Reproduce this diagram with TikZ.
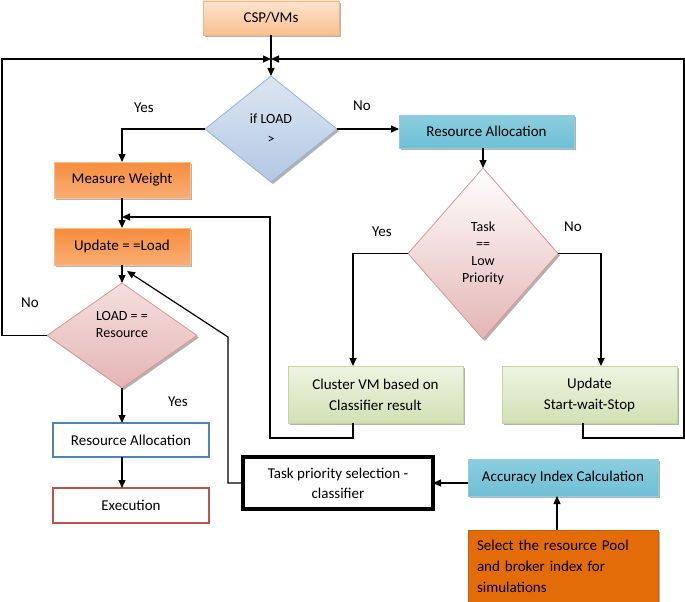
\documentclass[tikz,border=0pt]{standalone}
\usepackage{fontspec}
\setmainfont{Carlito}
\usetikzlibrary{shapes.geometric,arrows.meta,shadows}
\definecolor{cspTop}{HTML}{FDE3CE}
\definecolor{cspBot}{HTML}{FABF8F}
\definecolor{cspLine}{HTML}{F9B383}
\definecolor{orTop}{HTML}{F68C3C}
\definecolor{orBot}{HTML}{F9AE74}
\definecolor{orLine}{HTML}{FAC090}
\definecolor{tlTop}{HTML}{8CCDDF}
\definecolor{tlMid}{HTML}{45A7C2}
\definecolor{tlBot}{HTML}{6FC0D6}
\definecolor{tlLine}{HTML}{93CDDD}
\definecolor{grTop}{HTML}{EEF4E3}
\definecolor{grBot}{HTML}{D2E1B4}
\definecolor{grLine}{HTML}{C3D69B}
\definecolor{pkTop}{HTML}{F4E0DF}
\definecolor{pkBot}{HTML}{E4B5B4}
\definecolor{pkLine}{HTML}{D99694}
\definecolor{blTop}{HTML}{DCE6F2}
\definecolor{blBot}{HTML}{B3C8E3}
\definecolor{blLine}{HTML}{95B3D7}
\definecolor{selFill}{HTML}{E36C09}
\definecolor{raLine}{HTML}{4F81BD}
\definecolor{exLine}{HTML}{C0504D}
\begin{document}
\begin{tikzpicture}[x=1pt,y=-1pt,
  every node/.style={inner sep=0pt,outer sep=0pt},
  boxtext/.style={font=\fontsize{15}{21}\selectfont,align=center},
  dtext/.style={font=\fontsize{14}{17}\selectfont,align=center},
  shade/.style={drop shadow={shadow xshift=2pt,shadow yshift=-2pt,fill=black,opacity=0.3}},
  cspbox/.style={boxtext,shade,top color=cspTop,bottom color=cspBot,draw=cspLine,line width=0.8pt},
  orbox/.style={boxtext,shade,top color=orTop,bottom color=orBot,draw=orLine,line width=0.8pt},
  tlbox/.style={boxtext,shade,top color=tlTop,middle color=tlMid,bottom color=tlBot,draw=tlLine,line width=0.8pt},
  grbox/.style={boxtext,shade,top color=grTop,bottom color=grBot,draw=grLine,line width=0.8pt},
  plainbox/.style={boxtext,fill=white,line width=2.2pt},
  decide/.style={diamond,dtext,shade,line width=0.8pt},
  lbl/.style={font=\fontsize{15}{17}\selectfont},
  conn/.style={line width=1.2pt,draw=black},
  arr/.style={conn,-{Triangle[length=8pt,width=7pt]}}
]
\useasboundingbox (0,0) rectangle (685,602);

% nodes
\node[cspbox,minimum width=136pt,minimum height=34pt] (csp) at (271,18) {CSP/VMs};
\node[decide,top color=blTop,bottom color=blBot,draw=blLine,minimum width=132pt,minimum height=106pt] (d1) at (271,129) {if LOAD\\[3pt]>};
\node[orbox,minimum width=136pt,minimum height=36pt] (mw) at (122,180) {Measure Weight};
\node[orbox,minimum width=136pt,minimum height=37pt] (upd) at (122,246.5) {Update = =Load};
\node[decide,top color=pkTop,bottom color=pkBot,draw=pkLine,minimum width=150pt,minimum height=105pt] (d2) at (122,335.5) {LOAD = =\\Resource\\[6pt]};
\node[plainbox,draw=raLine,minimum width=156pt,minimum height=34pt] (ra2) at (131,440) {Resource Allocation};
\node[plainbox,draw=exLine,minimum width=156pt,minimum height=35pt] (exe) at (131,505.5) {Execution};
\node[tlbox,minimum width=175pt,minimum height=33pt] (ra1) at (486.5,131.5) {Resource Allocation};
\node[decide,top color=white,bottom color=pkBot,draw=pkLine,minimum width=150pt,minimum height=171pt] (d3) at (483,253.5) {Task\\==\\Low\\Priority};
\node[grbox,minimum width=175pt,minimum height=57pt] (cvm) at (375.5,394.5) {Cluster VM based on\\Classifier result};
\node[grbox,minimum width=175pt,minimum height=57pt] (uss) at (589.5,394.5) {Update\\Start-wait-Stop};
\node[plainbox,draw=black,line width=3.2pt,minimum width=190pt,minimum height=52pt,font=\fontsize{15}{20}\selectfont] (tps) at (338,483) {Task priority selection -\\classifier};
\node[tlbox,minimum width=190pt,minimum height=37pt] (aic) at (563,477.5) {Accuracy Index Calculation};
\node[boxtext,shade,fill=selFill,draw=selFill!90!black,line width=0.8pt,minimum width=190pt,minimum height=72pt,text width=172pt,align=left] (sel) at (563,566) {Select the resource Pool\\and broker index for\\simulations};

% labels
\node[lbl] (y1) at (144,108) {Yes};
\node[lbl] (n1) at (362,106) {No};
\node[lbl] (y3) at (382,232) {Yes};
\node[lbl] (n3) at (573,227) {No};
\node[lbl] (n2) at (30,303) {No};
\node[lbl] (y2) at (178,402) {Yes};

% coordinates
\coordinate (j) at (271,59);
\coordinate (lt) at (2,59);
\coordinate (rt) at (684,59);
\coordinate (fb) at (270,217);
\coordinate (tb) at (228,337);
\coordinate (te) at (127,271);

% connectors
\draw[arr] (csp.south) -- (d1.north);
\draw[arr] (d2.west) -| (lt) -- (j);
\draw[arr] ([xshift=-6.5pt]uss.south) -- ++(0,15) -| (rt) -- (j);
\draw[arr] (d1.west) -| (mw.north);
\draw[arr] (d1.east) -- (d1.east -| ra1.west);
\draw[arr] (d3.north |- ra1.south) -- (d3.north);
\draw[arr] (d3.west) -| ([xshift=-22.5pt]cvm.north);
\draw[arr] (d3.east) -| ([xshift=11.5pt]uss.north);
\draw[arr] ([xshift=-22.5pt]cvm.south) -- ++(0,15) -| (fb) -- (fb -| upd.north);
\draw[arr] (mw.south) -- (upd.north);
\draw[arr] (upd.south) -- (d2.north);
\draw[arr] (tps.west) -| (tb) -- (te);
\draw[arr] (d2.south) -- (d2.south |- ra2.north);
\draw[arr] (d2.south |- ra2.south) -- (d2.south |- exe.north);
\draw[arr] (tps.east -| aic.west) -- (tps.east);
\draw[arr] ([xshift=-6pt]sel.north) -- ([xshift=-6pt]aic.south);
\end{tikzpicture}
\end{document}
